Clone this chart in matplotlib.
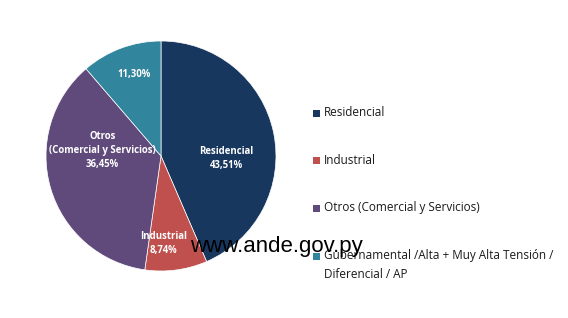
import matplotlib
matplotlib.use("Agg")
import matplotlib.pyplot as plt
from matplotlib.patches import Rectangle

categories = ["Residencial", "Industrial", "Otros (Comercial y Servicios)",
              "Gubernamental /Alta + Muy Alta Tensión /\nDiferencial / AP"]
inner_labels = ["Residencial\n43,51%", "Industrial\n8,74%",
                "Otros\n(Comercial y Servicios)\n36,45%", "11,30%"]
shares = [43.51, 8.74, 36.45, 11.30]
colors = ["#17375E", "#C0504D", "#604A7B", "#31859C"]

W, H = 568, 318
fig = plt.figure(figsize=(W / 100, H / 100), dpi=100)
plt.rcParams['font.family'] = ['Open Sans', 'DejaVu Sans']

ax = fig.add_axes([46 / W, 47 / H, 230 / W, 230 / H])
ax.pie(shares, colors=colors, startangle=90, counterclock=False,
       wedgeprops=dict(linewidth=0.5, edgecolor="white"))
ax.set_xlim(-1, 1)
ax.set_ylim(-1, 1)
ax.set_aspect("equal")

label_pos = [(0.57, -0.02), (0.02, -0.76), (-0.51, 0.05), (-0.23, 0.71)]
for (x, y), txt in zip(label_pos, inner_labels):
    ax.text(x, y, txt, ha="center", va="center", color="white",
            fontsize=6.9, fontweight="bold", linespacing=1.35)

# legend drawn by hand so the square sits on the first line of each entry
row_y = [113, 160, 208, 256]
for y, c, name in zip(row_y, colors, categories):
    fig.patches.append(Rectangle((313 / W, 1 - (y + 3.5) / H), 7 / W, 7 / H,
                                 transform=fig.transFigure, facecolor=c,
                                 edgecolor="none"))
    for i, line in enumerate(name.split("\n")):
        fig.text(324 / W, 1 - (y + i * 19) / H, line, fontsize=8.5,
                 va="center", ha="left", color="#1a1a1a")

fig.text(190 / W, 1 - 252 / H, "www.ande.gov.py", fontsize=16,
         color="black", va="baseline", ha="left", family="Liberation Sans")

fig.savefig("out.png", dpi=100)
